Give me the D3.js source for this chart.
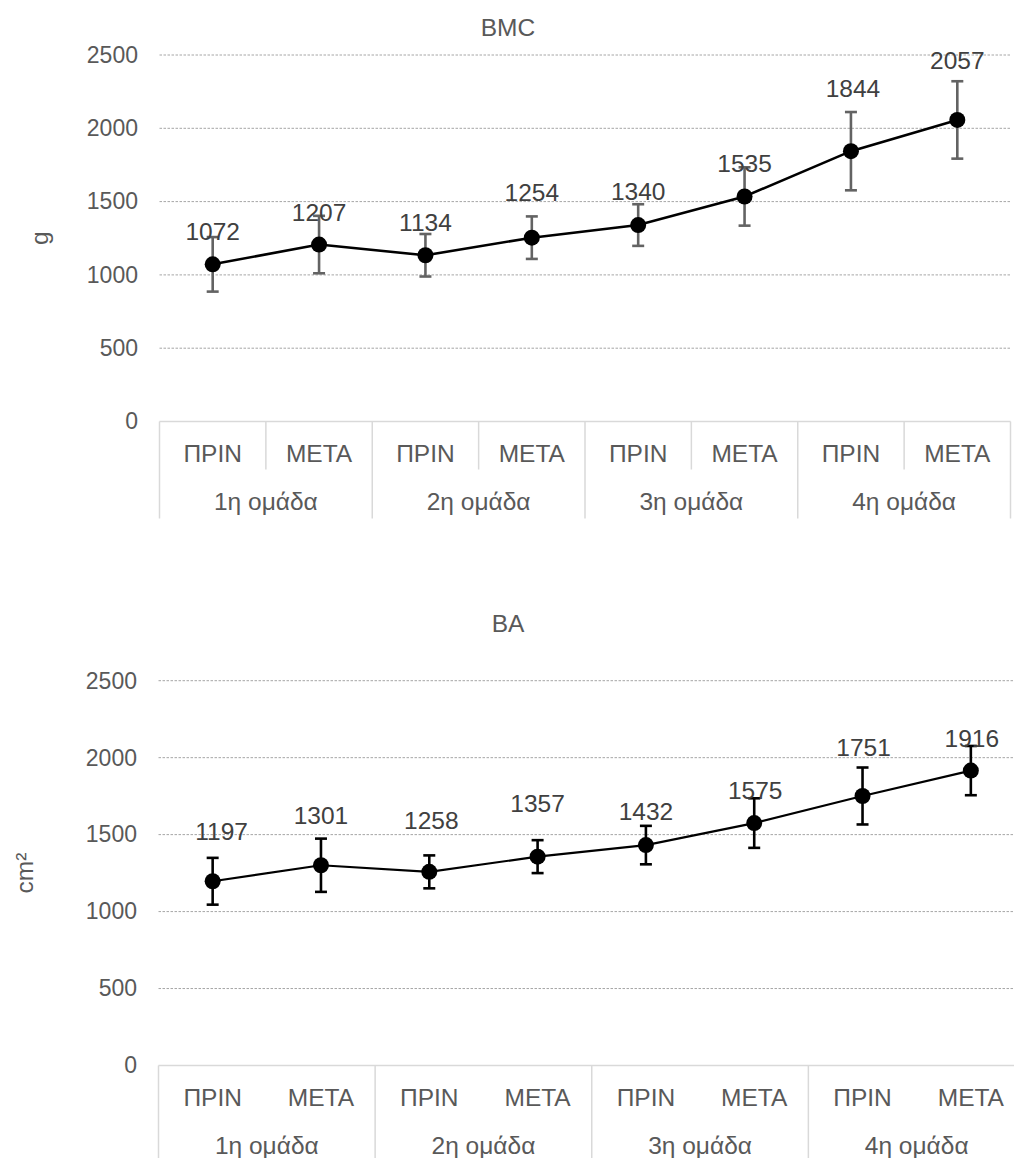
<!DOCTYPE html>
<html>
<head>
<meta charset="utf-8">
<script src="https://cdn.jsdelivr.net/npm/d3@7"></script>
<style>
  html, body { margin: 0; padding: 0; background: #fff; }
  svg { display: block; font-family: "Liberation Sans", Arial, sans-serif; }
</style>
</head>
<body>
<svg id="chart" width="1014" height="1158"></svg>
<script>
// ---- data ----
const phases = ["ΠΡΙΝ", "ΜΕΤΑ"];
const groups = ["1η ομάδα", "2η ομάδα", "3η ομάδα", "4η ομάδα"];
const yTicks = [0, 500, 1000, 1500, 2000, 2500];

const bmcMean = [1072, 1207, 1134, 1254, 1340, 1535, 1844, 2057];
const bmcSd   = [186, 196, 145, 145, 142, 199, 267, 264];

const baMean  = [1197, 1301, 1258, 1357, 1432, 1575, 1751, 1916];
const baSd    = [152, 173, 107, 107, 125, 161, 185, 160];

// ---- layout of the two panels ----
const panels = [
  {
    title: "BMC", unit: "g", mean: bmcMean, sd: bmcSd,
    top: 55, bottom: 421.5, left: 159.5, right: 1010.5,
    titleY: 36, unitX: 48,
    errColor: "#636363", lineWidth: 2.6, innerSeparators: true,
    labelLift: [24, 24, 24, 37, 25, 24, 54, 51],
    labelShift: [0, 0, 0, 0, 0, 0, 2, 0]
  },
  {
    title: "BA", unit: "cm²", mean: baMean, sd: baSd,
    top: 680.7, bottom: 1065.5, left: 158.5, right: 1025,
    titleY: 632, unitX: 33,
    errColor: "#000000", lineWidth: 2.2, innerSeparators: false,
    labelLift: [41, 41, 43, 45, 25, 24, 40, 24],
    labelShift: [9, 0, 2, 0, 0, 1, 1, 1]
  }
];

const svg = d3.select("#chart");
const textColor = "#595959";
const labelColor = "#404040";

panels.forEach(p => {
  const cats = d3.range(groups.length * phases.length);
  const x = d3.scaleBand().domain(cats).range([p.left, p.right]).padding(0);
  const y = d3.scaleLinear().domain([0, 2500]).range([p.bottom, p.top]);
  const g = svg.append("g");

  // horizontal gridlines
  g.append("g").selectAll("line")
    .data(yTicks.filter(t => t > 0))
    .join("line")
    .attr("x1", p.left).attr("x2", p.right)
    .attr("y1", d => y(d)).attr("y2", d => y(d))
    .attr("stroke", "#a6a6a6").attr("stroke-width", 1)
    .attr("stroke-dasharray", "2.5,1.5");

  // value axis labels
  const yAxis = g.append("g")
    .attr("transform", `translate(${p.left},0)`)
    .call(d3.axisLeft(y).tickValues(yTicks).tickFormat(d3.format("d"))
      .tickSize(0).tickPadding(21.5));
  yAxis.select(".domain").remove();
  yAxis.selectAll("text")
    .attr("font-size", 23).attr("fill", textColor)
    .attr("font-family", "Liberation Sans, Arial, sans-serif");

  // category axis line
  g.append("line")
    .attr("x1", p.left).attr("x2", p.right)
    .attr("y1", p.bottom).attr("y2", p.bottom)
    .attr("stroke", "#d9d9d9").attr("stroke-width", 1.5);

  // group separators (full height) and phase separators (upper row)
  const groupEdges = d3.range(groups.length + 1).map(i => i * phases.length);
  g.append("g").selectAll("line")
    .data(groupEdges)
    .join("line")
    .attr("x1", i => i < cats.length ? x(i) : p.right)
    .attr("x2", i => i < cats.length ? x(i) : p.right)
    .attr("y1", p.bottom).attr("y2", p.bottom + 97)
    .attr("stroke", "#d9d9d9").attr("stroke-width", 1.5);
  if (p.innerSeparators) {
    g.append("g").selectAll("line")
      .data(groups.map((_, gi) => gi * phases.length + 1))
      .join("line")
      .attr("x1", i => x(i)).attr("x2", i => x(i))
      .attr("y1", p.bottom).attr("y2", p.bottom + 48)
      .attr("stroke", "#d9d9d9").attr("stroke-width", 1.5);
  }

  // category labels
  g.append("g").selectAll("text")
    .data(cats)
    .join("text")
    .attr("x", i => x(i) + x.bandwidth() / 2)
    .attr("y", p.bottom + 40.5)
    .attr("text-anchor", "middle")
    .attr("font-size", 24.5).attr("fill", textColor)
    .text(i => phases[i % phases.length]);

  g.append("g").selectAll("text")
    .data(groups)
    .join("text")
    .attr("x", (d, gi) => (x(gi * 2) + x(gi * 2 + 1) + x.bandwidth()) / 2)
    .attr("y", p.bottom + 88.5)
    .attr("text-anchor", "middle")
    .attr("font-size", 24.5).attr("fill", textColor)
    .text(d => d);

  // chart title
  g.append("text")
    .attr("x", 508).attr("y", p.titleY)
    .attr("text-anchor", "middle")
    .attr("font-size", 24.5).attr("fill", textColor)
    .text(p.title);

  // value axis title
  g.append("text")
    .attr("transform", `translate(${p.unitX},${(p.top + p.bottom) / 2}) rotate(-90)`)
    .attr("text-anchor", "middle")
    .attr("font-size", 24.5).attr("fill", textColor)
    .text(p.unit);

  const cx = i => x(i) + x.bandwidth() / 2;

  // error bars
  const eb = g.append("g").attr("stroke", p.errColor).attr("stroke-width", 2.6);
  cats.forEach(i => {
    const hi = y(p.mean[i] + p.sd[i]);
    const lo = y(p.mean[i] - p.sd[i]);
    eb.append("line").attr("x1", cx(i)).attr("x2", cx(i)).attr("y1", hi).attr("y2", lo);
    eb.append("line").attr("x1", cx(i) - 6).attr("x2", cx(i) + 6).attr("y1", hi).attr("y2", hi);
    eb.append("line").attr("x1", cx(i) - 6).attr("x2", cx(i) + 6).attr("y1", lo).attr("y2", lo);
  });

  // connecting line
  g.append("path")
    .datum(cats)
    .attr("fill", "none").attr("stroke", "#000").attr("stroke-width", p.lineWidth)
    .attr("d", d3.line().x(i => cx(i)).y(i => y(p.mean[i])));

  // markers
  g.append("g").selectAll("circle")
    .data(cats)
    .join("circle")
    .attr("cx", i => cx(i)).attr("cy", i => y(p.mean[i]))
    .attr("r", 8).attr("fill", "#000");

  // value labels
  g.append("g").selectAll("text")
    .data(cats)
    .join("text")
    .attr("x", i => cx(i) + p.labelShift[i])
    .attr("y", i => y(p.mean[i]) - p.labelLift[i])
    .attr("text-anchor", "middle")
    .attr("font-size", 24.5).attr("fill", labelColor)
    .text(i => p.mean[i]);
});
</script>
</body>
</html>
